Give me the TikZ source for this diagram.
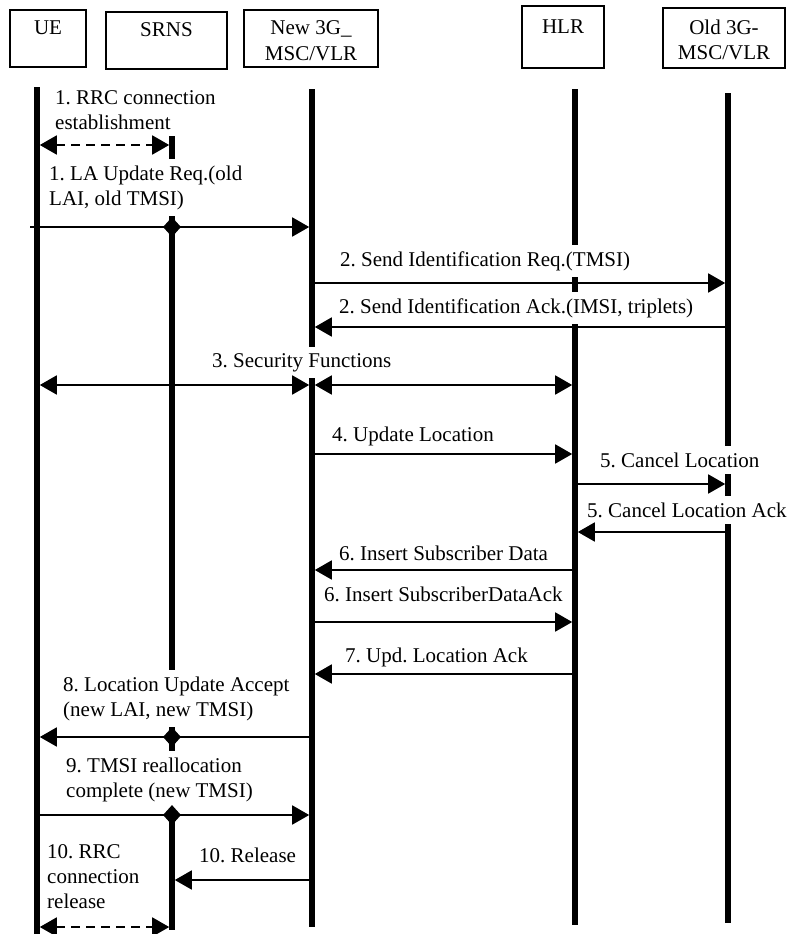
\documentclass[tikz,border=0pt]{standalone}
\usepackage{fontspec}
\setmainfont{Liberation Serif}
\usetikzlibrary{arrows.meta,shapes.geometric}
\newcommand{\hdrtop}{\rule{0pt}{25pt}}
\newcommand{\hdrbot}{\rule[-7pt]{0pt}{7pt}}
\frenchspacing

\begin{document}
\begin{tikzpicture}[x=1pt,y=-1pt,
        font=\fontsize{21}{25}\selectfont,
        entity/.style={draw, line width=1.8pt, align=center, inner xsep=0pt, inner ysep=0pt, minimum height=57pt},
        lifeline/.style={line width=5.5pt},
        msgtext/.style={anchor=base west, align=left, fill=white, inner xsep=2pt, inner ysep=6.5pt},
        msg/.style={line width=1.8pt, -{Triangle[length=17pt,width=19pt]}, shorten >=2.8pt},
        both/.style={line width=1.8pt, {Triangle[length=17pt,width=19pt]}-{Triangle[length=17pt,width=19pt]}, shorten >=2.8pt, shorten <=2.8pt},
        rrc/.style={both, dash pattern=on 9pt off 6pt},
        relay/.style={diamond, fill=black, minimum width=18pt, minimum height=20pt, inner sep=0pt}]
        \useasboundingbox (0,0) rectangle (788,934);

        % entities
        \node[entity, minimum width=76pt] (ue) at (48,38.5) {\hdrtop UE\\\hdrbot};
        \node[entity, minimum width=121pt] (srns) at (166.5,40.5) {\hdrtop SRNS\\\hdrbot};
        \node[entity, minimum width=134pt] (msc) at (311,38.5) {\hdrtop New 3G\_\\MSC/VLR\hdrbot};
        \node[entity, minimum width=82pt, minimum height=62pt] (hlr) at (563,37) {\hdrtop HLR\\\hdrbot};
        \node[entity, minimum width=122pt, minimum height=60pt] (old) at (724,38) {\hdrtop Old 3G-\\MSC/VLR\hdrbot};

        % lifelines
        \coordinate (ue-top) at (37,87);     \coordinate (ue-bot) at (37,934);
        \coordinate (srns-top) at (172,88);  \coordinate (srns-bot) at (172,930);
        \coordinate (msc-top) at (312,89);   \coordinate (msc-bot) at (312,927);
        \coordinate (hlr-top) at (575,89);   \coordinate (hlr-bot) at (575,925);
        \coordinate (old-top) at (728,93);   \coordinate (old-bot) at (728,923);
        \foreach \n in {ue,srns,msc,hlr,old}
            \path[draw,lifeline] (\n-top) -- (\n-bot);

        % message texts (base = last line)
        \node[msgtext] (t1a) at (53,129) {1. RRC connection\\establishment};
        \node[msgtext] (t1b) at (47,205) {1. LA Update Req.(old\\LAI, old TMSI)};
        \node[msgtext] (t2a) at (338,266) {2. Send Identification Req.(TMSI)};
        \node[msgtext] (t2b) at (337,313) {2. Send Identification Ack.(IMSI, triplets)};
        \node[msgtext] (t3) at (210,367) {3. Security Functions};
        \node[msgtext] (t4) at (330,441) {4. Update Location};
        \node[msgtext] (t5a) at (598,467) {5. Cancel Location};
        \node[msgtext] (t5b) at (585,517) {5. Cancel Location Ack};
        \node[msgtext] (t6a) at (337,560) {6. Insert Subscriber Data};
        \node[msgtext] (t6b) at (322,601) {6. Insert SubscriberDataAck};
        \node[msgtext] (t7) at (343,662) {7. Upd. Location Ack};
        \node[msgtext] (t8) at (61,716) {8. Location Update Accept\\(new LAI, new TMSI)};
        \node[msgtext] (t9) at (64,797) {9. TMSI reallocation\\complete (new TMSI)};
        \node[msgtext] (t10a) at (197,862) {10. Release};
        \node[msgtext] (t10b) at (45,908) {10. RRC\\connection\\release};

        % messages
        \coordinate (la-start) at (30,227);
        \path[draw,rrc] (ue-top |- 0,145) -- (srns-top |- 0,145);
        \path[draw,msg] (la-start) -- (msc-top |- 0,227);
        \path[draw,msg] (msc-top |- 0,283) -- (old-top |- 0,283);
        \path[draw,msg] (old-top |- 0,327) -- (msc-top |- 0,327);
        \path[draw,both] (ue-top |- 0,385) -- (msc-top |- 0,385);
        \path[draw,both] (msc-top |- 0,385) -- (hlr-top |- 0,385);
        \path[draw,msg] (msc-top |- 0,454) -- (hlr-top |- 0,454);
        \path[draw,msg] (hlr-top |- 0,484) -- (old-top |- 0,484);
        \path[draw,msg] (old-top |- 0,532) -- (hlr-top |- 0,532);
        \path[draw,msg] (hlr-top |- 0,570) -- (msc-top |- 0,570);
        \path[draw,msg] (msc-top |- 0,622) -- (hlr-top |- 0,622);
        \path[draw,msg] (hlr-top |- 0,674) -- (msc-top |- 0,674);
        \path[draw,msg] (msc-top |- 0,737) -- (ue-top |- 0,737);
        \path[draw,msg] (ue-top |- 0,815) -- (msc-top |- 0,815);
        \path[draw,msg] (msc-top |- 0,880) -- (srns-top |- 0,880);
        \path[draw,rrc] (ue-top |- 0,927) -- (srns-top |- 0,927);

        % relays at SRNS
        \node[relay] (r1) at (srns-top |- 0,227) {};
        \node[relay] (r8) at (srns-top |- 0,737) {};
        \node[relay] (r9) at (srns-top |- 0,815) {};
    \end{tikzpicture}
\end{document}
